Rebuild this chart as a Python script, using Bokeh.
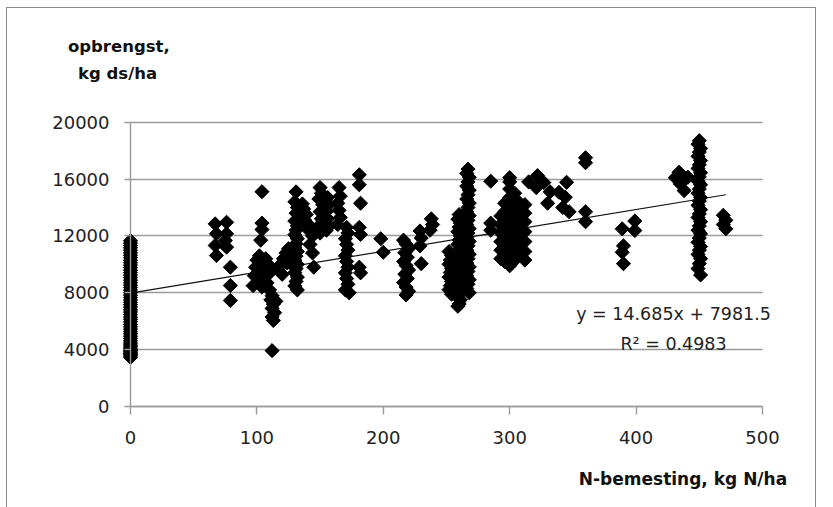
from bokeh.plotting import figure
from bokeh.models import Range1d, FixedTicker, Label, ColumnDataSource
from bokeh.embed import file_html
from bokeh.resources import INLINE

# ---------------- data ----------------
y_000 = [3450, 3560, 3640, 3710, 3790, 3880, 3960, 4060, 4190, 4330, 4470, 4620,
         4790, 4940, 5110, 5270, 5440, 5610, 5780, 5960, 6130, 6290, 6470, 6640,
         6810, 6990, 7160, 7330, 7490, 7670, 7840, 8010, 8190, 8370, 8540, 8710,
         8890, 9070, 9240, 9420, 9590, 9770, 9940, 10120, 10290, 10470, 10640,
         10810, 10990, 11160, 11330, 11490, 11660]
n_000 = [0] * len(y_000)

n_070 = [67, 68, 67, 68, 76, 76, 75, 76, 79, 79, 79]
y_070 = [12850, 12150, 11330, 10620, 12960, 12150, 11680, 11210, 9800, 8510, 7460]

n_105 = [104, 104, 104, 103, 97, 98, 99, 100, 101, 102, 103, 104, 105, 106, 107, 108, 109, 110, 102]
y_105 = [15110, 12900, 12450, 11700, 8500, 9200, 9800, 10300, 8800, 9500, 10100, 8400, 9000,
         9700, 10400, 8700, 9300, 9900, 10600]

n_112 = [110, 112, 111, 113, 112, 114, 112, 113, 115, 112]
y_112 = [8200, 7800, 7500, 7200, 6900, 6600, 6300, 6050, 7400, 3930]

n_122 = [117, 119, 121, 123, 125, 120, 124, 127]
y_122 = [9600, 10000, 10400, 10800, 11100, 9300, 10100, 10500]

n_131 = [131, 130, 132, 131, 130, 132, 131, 130, 132, 131, 130, 132, 131, 130, 132,
         131, 130, 132, 131, 130, 132]
y_131 = [15100, 14400, 14000, 13600, 13050, 12700, 12400, 12080, 11800, 11450, 11200,
         10900, 10580, 10300, 10000, 9700, 9420, 9100, 8800, 8480, 8200]

n_138 = [136, 137, 139, 138, 140, 141, 136, 143, 144, 142, 144, 145]
y_138 = [14250, 13900, 13500, 13100, 12700, 12400, 13300, 12600, 12000, 11400, 10800, 9800]

n_150 = [150, 151, 149, 152, 150, 151, 149, 150, 156, 157, 155, 156, 157, 155]
y_150 = [15400, 15000, 14600, 14200, 13700, 13200, 12700, 12200, 14700, 14200, 13700,
         13200, 12700, 12400]

n_165 = [165, 166, 164, 165, 166, 164]
y_165 = [15400, 14800, 14300, 13800, 13300, 12800]

n_171 = [171, 172, 170, 171, 172, 170, 171, 172, 170, 171, 172, 170, 173]
y_171 = [12600, 12200, 11800, 11400, 11000, 10600, 10200, 9800, 9400, 9000, 8600, 8200, 8000]

n_182 = [181, 181, 182, 181, 182, 181, 182]
y_182 = [16300, 15600, 14300, 12600, 12100, 9800, 9400]

n_199 = [198, 200]
y_199 = [11800, 10850]

n_218 = [216, 218, 220, 217, 219, 216, 218, 220, 217, 219, 216, 218, 220, 218]
y_218 = [11700, 11420, 11100, 10820, 10500, 10200, 9920, 9600, 9310, 9000, 8720, 8400,
         8100, 7850]

n_230 = [229, 230, 229, 230, 238, 239, 237]
y_230 = [12350, 11850, 11300, 10050, 13200, 12800, 12400]

n_253 = [252, 254, 253, 252, 254, 253, 252, 254, 253, 252, 254]
y_253 = [10900, 10620, 10300, 10010, 9700, 9420, 9100, 8790, 8500, 8220, 7900]

n_260 = [260, 259, 261, 260, 259, 261, 260, 259, 261, 260, 259, 261, 260, 259, 261,
         260, 259, 261, 260, 259, 261, 260, 259]
y_260 = [13500, 13180, 12900, 12620, 12300, 12000, 11720, 11400, 11100, 10810, 10500,
         10200, 9910, 9600, 9300, 9020, 8700, 8400, 8110, 7800, 7500, 7220, 7050]

n_267 = [267, 266, 268, 267, 266, 268, 267, 266, 268, 267, 266, 268, 267, 266, 268,
         267, 266, 268, 267, 266, 268, 267, 266, 268, 267, 266, 268, 267, 266, 268]
y_267 = [16700, 16400, 16120, 15800, 15500, 15220, 14900, 14600, 14310, 14000, 13700,
         13420, 13100, 12800, 12510, 12200, 11900, 11620, 11300, 11000, 10710, 10400,
         10100, 9820, 9500, 9200, 8910, 8600, 8300, 8000]

n_285 = [285, 285, 285]
y_285 = [15850, 12900, 12400]

n_300 = [293, 293, 293, 293, 293, 293,
         296, 296, 296, 296, 296, 296, 296, 296,
         300, 300, 300, 300, 300, 300, 300, 300, 300, 300, 300, 300,
         304, 304, 304, 304, 304, 304, 304, 304, 304,
         308, 308, 308, 308, 308, 308, 308,
         312, 312, 312, 312, 312, 312, 312]
y_300 = [10400, 11000, 11600, 12200, 12800, 13400,
         10200, 10700, 11300, 11900, 12500, 13100, 13700, 14300,
         9900, 10500, 11100, 11700, 12300, 12900, 13500, 14100, 14700, 15300, 15800, 16100,
         10300, 10900, 11500, 12100, 12700, 13300, 13900, 14500, 15000,
         10800, 11400, 12000, 12600, 13200, 13800, 14300,
         10300, 10900, 11600, 12300, 13000, 13600, 14200]

n_325 = [315, 322, 321, 327, 332, 330, 339, 345, 344, 342, 347]
y_325 = [15800, 16250, 15400, 15750, 15100, 14300, 15070, 15770, 14720, 14000, 13700]

n_360 = [360, 360, 360, 360]
y_360 = [17500, 17150, 13700, 13000]

n_390 = [389, 390, 389, 390, 399, 399]
y_390 = [12500, 11300, 10850, 10050, 13050, 12380]

n_437 = [434, 435, 441, 438, 431]
y_437 = [16480, 15660, 16130, 15190, 16100]

n_450 = [450, 449, 451, 450, 449, 451, 450, 449, 451, 450, 449, 451, 450, 449, 451,
         450, 449, 451, 450, 449, 451, 450, 449, 451, 450, 449, 451, 450, 449, 451,
         450, 449, 451]
y_450 = [18700, 18450, 18150, 17900, 17600, 17300, 17000, 16750, 16450, 16150, 15850,
         15600, 15300, 15000, 14700, 14450, 14150, 13850, 13550, 13300, 13000, 12700,
         12400, 12150, 11850, 11550, 11250, 11000, 10700, 10400, 10050, 9700, 9250]

n_470 = [469, 471, 469, 471]
y_470 = [13450, 13100, 12800, 12500]

trend_slope = 14.685
trend_intercept = 7981.5
r_squared = 0.4983

x_ticks = [0, 100, 200, 300, 400, 500]
y_ticks = [0, 4000, 8000, 12000, 16000, 20000]

y_title_lines = ["opbrengst,", "kg ds/ha"]
x_title = "N-bemesting, kg N/ha"

# ---------------- build table ----------------
groups = [(n_000, y_000), (n_070, y_070), (n_105, y_105), (n_112, y_112), (n_122, y_122),
          (n_131, y_131), (n_138, y_138), (n_150, y_150), (n_165, y_165), (n_171, y_171),
          (n_182, y_182), (n_199, y_199), (n_218, y_218), (n_230, y_230), (n_253, y_253),
          (n_260, y_260), (n_267, y_267), (n_285, y_285), (n_300, y_300), (n_325, y_325),
          (n_360, y_360), (n_390, y_390), (n_437, y_437), (n_450, y_450), (n_470, y_470)]
n_all, y_all = [], []
for ns, ys in groups:
    assert len(ns) == len(ys)
    n_all += ns
    y_all += ys
src = ColumnDataSource(dict(n=n_all, y=y_all))

FONT = "DejaVu Sans"
GRID = "#9a9a9a"

# The frame covers the whole chart area; axes are pinned at 0 with fixed_location.
p = figure(width=808, height=499, output_backend="svg", toolbar_location=None,
           x_range=Range1d(-97.31, 541.93), y_range=Range1d(-7105, 27999),
           min_border=0)
p.title.visible = False
p.margin = (8, 0, 0, 7)
p.styles = {"outline": "1px solid #8c8c8c"}
p.outline_line_color = None
p.background_fill_color = "white"
p.border_fill_color = "white"

# grid
p.xgrid.visible = False
p.ygrid.ticker = FixedTicker(ticks=y_ticks)
p.ygrid.grid_line_color = GRID
p.ygrid.grid_line_width = 1.4
g = p.ygrid[0]
if "cross_bounds" in g.properties():
    g.cross_bounds = (0, 500)
if "bounds" in g.properties():
    g.bounds = (0, 20000)

# axes
xa = p.xaxis[0]
xa.fixed_location = 0
xa.ticker = FixedTicker(ticks=x_ticks)
xa.bounds = (0, 500)
xa.axis_line_color = GRID
xa.axis_line_width = 1.4
xa.major_tick_line_color = GRID
xa.major_tick_line_width = 1.4
xa.major_tick_out = 8
xa.major_tick_in = 0
xa.minor_tick_line_color = None
xa.major_label_text_font = FONT
xa.major_label_text_font_size = "18px"
xa.major_label_text_color = "#222222"
xa.major_label_standoff = 16

ya = p.yaxis[0]
ya.fixed_location = 0
ya.ticker = FixedTicker(ticks=y_ticks)
ya.bounds = (0, 20000)
ya.axis_line_color = GRID
ya.axis_line_width = 1.4
ya.major_tick_line_color = GRID
ya.major_tick_line_width = 1.4
ya.major_tick_out = 6
ya.major_tick_in = 0
ya.minor_tick_line_color = None
ya.major_label_text_font = FONT
ya.major_label_text_font_size = "18px"
ya.major_label_text_color = "#222222"
ya.major_label_standoff = 15

# trend line from the fitted equation
x_end = max(n_all)
p.line([0, x_end], [trend_intercept, trend_intercept + trend_slope * x_end],
       line_color="#111111", line_width=1.2)

# points
p.scatter("n", "y", source=src, marker="square", size=10, angle=0.7854,
          fill_color="black", line_color="black")

# texts
eq = f"y = {trend_slope}x + {trend_intercept}"
p.add_layout(Label(x=429.6, y=6542, text=eq, text_align="center", text_baseline="middle",
                   text_font=FONT, text_font_size="17.5px", text_color="#222222"))
p.add_layout(Label(x=429.6, y=4432, text=f"R\u00b2 = {r_squared}", text_align="center",
                   text_baseline="middle", text_font=FONT, text_font_size="17.5px",
                   text_color="#222222"))
p.add_layout(Label(x=-9.26, y=25346, text=y_title_lines[0], text_align="center",
                   text_baseline="middle", text_font=FONT, text_font_style="bold",
                   text_font_size="16.5px", text_color="#111111"))
p.add_layout(Label(x=-10.28, y=23405, text=y_title_lines[1], text_align="center",
                   text_baseline="middle", text_font=FONT, text_font_style="bold",
                   text_font_size="16.5px", text_color="#111111"))
p.add_layout(Label(x=519.5, y=-5135, text=x_title, text_align="right",
                   text_baseline="middle", text_font=FONT, text_font_style="bold",
                   text_font_size="17px", text_color="#111111"))

open("out.html", "w").write(file_html(p, INLINE))
